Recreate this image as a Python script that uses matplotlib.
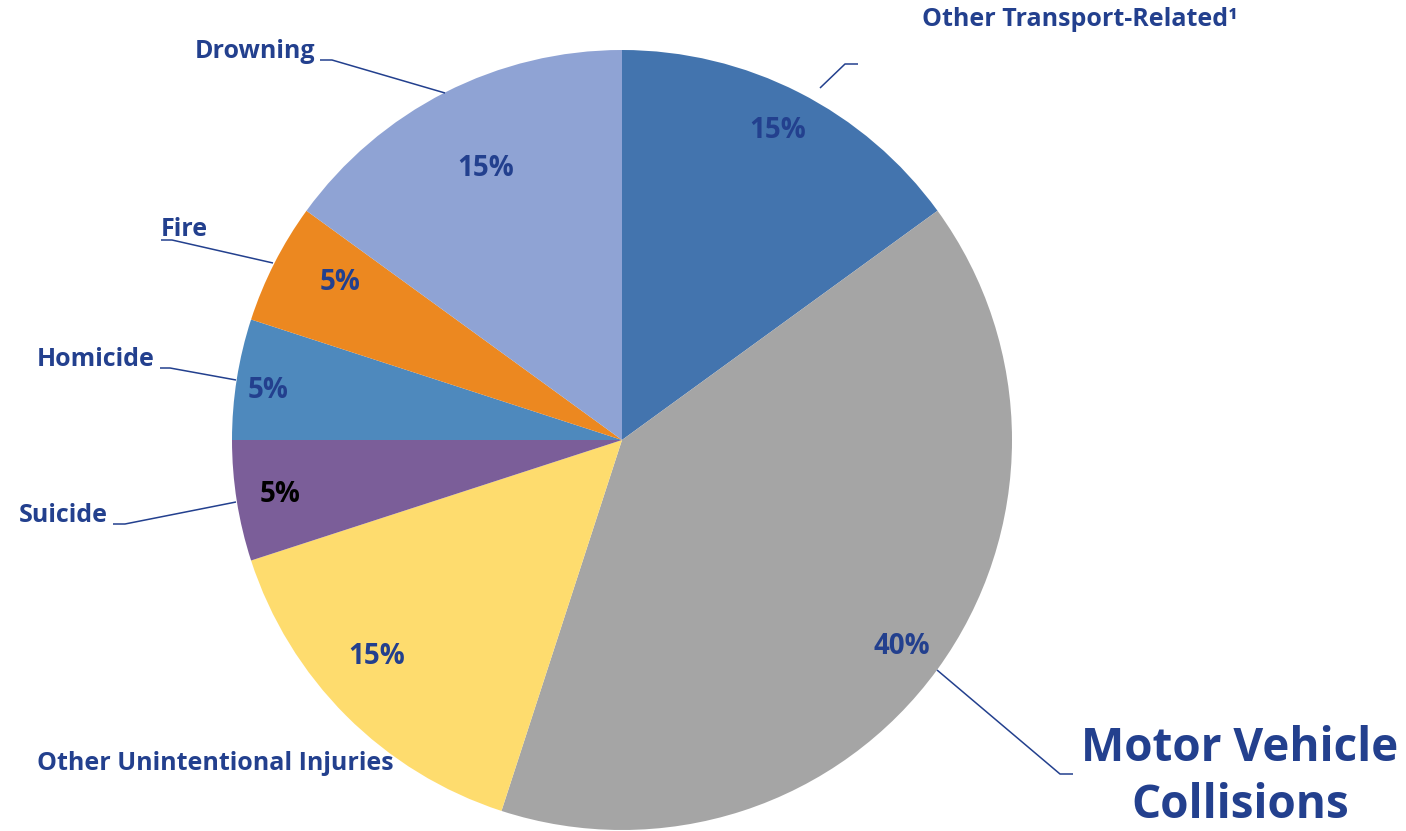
import matplotlib
matplotlib.use("Agg")
import matplotlib.pyplot as plt

# data (clockwise from 12 o'clock)
categories = ["Other Transport-Related\u00b9", "Motor Vehicle\nCollisions",
              "Other Unintentional Injuries", "Suicide", "Homicide", "Fire", "Drowning"]
shares = [15, 40, 15, 5, 5, 5, 15]
colors = ["#4374AE", "#A5A5A5", "#FEDC6E", "#7B5E99", "#4E89BD", "#EC8820", "#8FA3D4"]

NAVY = "#23408E"
W, H = 1406, 831
FONT = "Open Sans"

fig = plt.figure(figsize=(W / 100, H / 100), dpi=100)
ax = fig.add_axes([0, 0, 1, 1])


def Y(y):
    # pixel row -> data y
    return H - y


ax.pie(shares, colors=colors, startangle=90, counterclock=False,
       center=(622, Y(440)), radius=390, frame=True,
       wedgeprops=dict(linewidth=0))
ax.set_xlim(0, W)
ax.set_ylim(0, H)
ax.set_aspect("equal")
ax.axis("off")

# percentage labels (manually placed, like the original)
pct_pos = [(778, 131), (902, 646), (377, 657), (280, 495), (268, 390), (340, 282), (486, 168)]
pct_colors = [NAVY, NAVY, NAVY, "black", NAVY, NAVY, NAVY]
for v, (x, y), c in zip(shares, pct_pos, pct_colors):
    ax.text(x, Y(y), f"{v}%", ha="center", va="center", fontsize=20,
            fontweight="bold", color=c, family=FONT)

# category labels: (x, y, ha, size, linespacing)
label_pos = [
    (922, 20, "left", 18, 1.15),
    (1240, 777, "center", 33, 1.3),
    (37, 763, "left", 18, 1.15),
    (108, 516, "right", 18, 1.15),
    (155, 360, "right", 18, 1.15),
    (208, 230, "right", 18, 1.15),
    (315, 51, "right", 18, 1.15),
]
for name, (x, y, ha, fs, ls) in zip(categories, label_pos):
    ax.text(x, Y(y), name, ha=ha, va="center", fontsize=fs, fontweight="bold",
            color=NAVY, family=FONT, linespacing=ls)

# leader lines
leaders = [
    [(820, 88), (845, 64), (858, 64)],
    [(937, 670), (1060, 774), (1073, 774)],
    [(236, 502), (125, 524), (113, 524)],
    [(236, 380), (170, 368), (160, 368)],
    [(273, 263), (172, 240), (161, 240)],
    [(445, 93), (332, 60), (320, 60)],
]
for pts in leaders:
    xs = [p[0] for p in pts]
    ys = [Y(p[1]) for p in pts]
    ax.plot(xs, ys, color=NAVY, lw=1.1, solid_capstyle="butt")

fig.savefig("out.png", dpi=100, facecolor="white")
